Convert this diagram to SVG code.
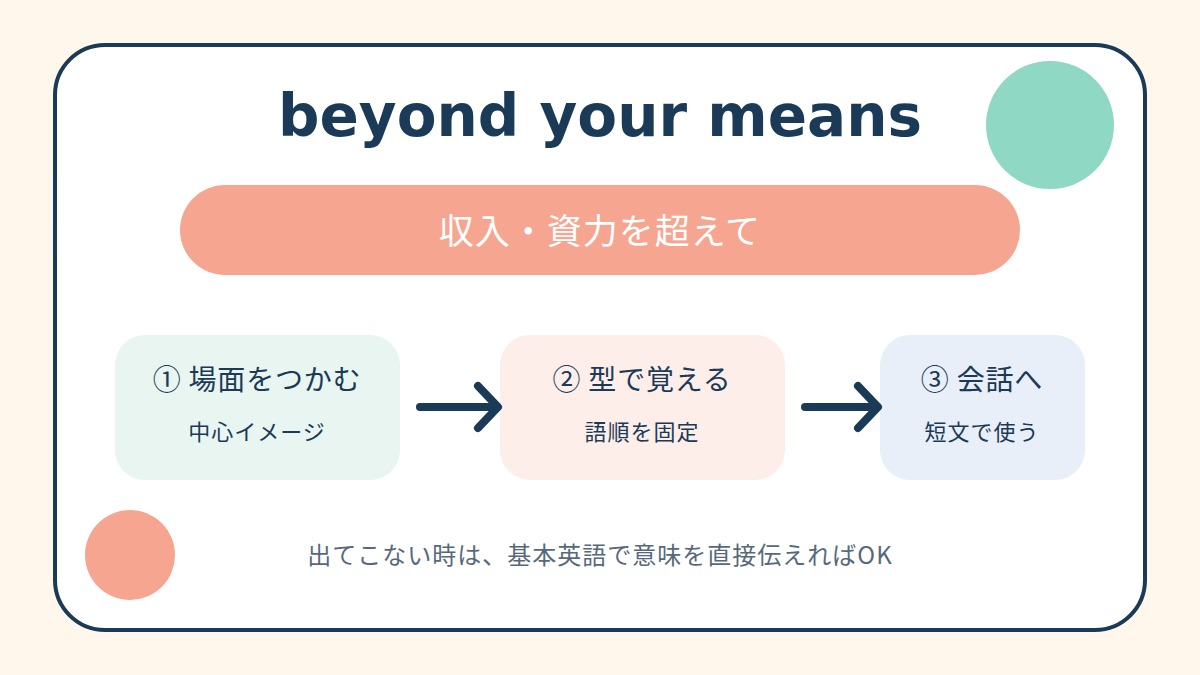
<svg xmlns="http://www.w3.org/2000/svg" width="1200" height="675" viewBox="0 0 1200 675">
<style>
.jp{font-family:"Noto Sans CJK JP","Noto Sans",sans-serif}
.h{font-size:28px;fill:#1b3a57;text-anchor:middle;letter-spacing:0.8px}
.s{font-size:22px;fill:#1b3a57;text-anchor:middle;letter-spacing:1px}
.arr{fill:none;stroke:#1b3a57;stroke-width:8;stroke-linecap:round;stroke-linejoin:round}
</style>
<rect width="1200" height="675" fill="#fff6ec"/>
<g id="card">
<rect x="55" y="45" width="1090" height="585" rx="50" fill="#ffffff" stroke="#1b3a57" stroke-width="4"/>
</g>
<circle cx="1050" cy="125" r="64" fill="#8fd8c4"/>
<circle cx="130" cy="555" r="45" fill="#f6a690"/>
<g id="title">
<text x="600" y="136" font-family="DejaVu Sans, sans-serif" font-weight="bold" font-size="58" fill="#1b3a57" text-anchor="middle">beyond your means</text>
</g>
<g id="meaning">
<rect x="180" y="185" width="840" height="90" rx="45" fill="#f6a690"/>
<text x="600" y="244" class="jp" font-size="35" fill="#ffffff" text-anchor="middle" letter-spacing="1">収入・資力を超えて</text>
</g>
<g id="step1">
<rect x="115" y="335" width="285" height="145" rx="30" fill="#e8f5f1"/>
<text x="257" y="390" class="jp h">① 場面をつかむ</text>
<text x="257" y="440" class="jp s">中心イメージ</text>
</g>
<g id="step2">
<rect x="500" y="335" width="285" height="145" rx="30" fill="#fdeee9"/>
<text x="642" y="390" class="jp h">② 型で覚える</text>
<text x="642" y="440" class="jp s">語順を固定</text>
</g>
<g id="step3">
<rect x="880" y="335" width="205" height="145" rx="30" fill="#e8eff9"/>
<text x="982" y="390" class="jp h">③ 会話へ</text>
<text x="982" y="440" class="jp s">短文で使う</text>
</g>
<g id="connectors">
<path class="arr" d="M420 407 H494 M478 386 L498 407 L478 428"/>
<path class="arr" d="M805 407 H874 M858 386 L878 407 L858 428"/>
</g>
<g id="note">
<text x="600" y="564" class="jp" font-size="24" fill="#56697c" text-anchor="middle" letter-spacing="1">出てこない時は、基本英語で意味を直接伝えればOK</text>
</g>
</svg>
